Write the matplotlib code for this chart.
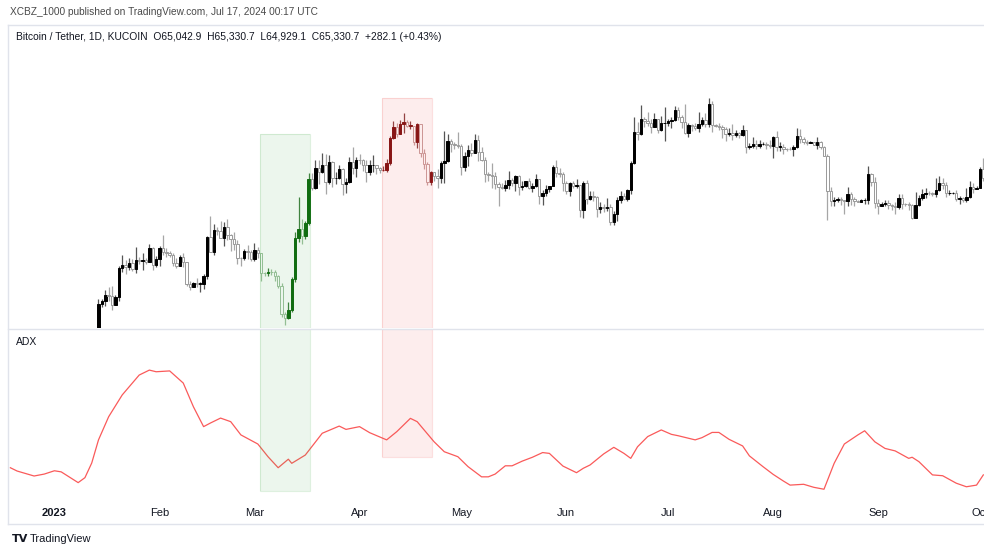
import numpy as np
import matplotlib
matplotlib.use("Agg")
import matplotlib.pyplot as plt
from matplotlib.patches import Rectangle
from matplotlib.lines import Line2D

plt.rcParams['font.family'] = ['Liberation Sans', 'DejaVu Sans']

# daily BTC/USDT candles, Jan 14 .. Oct 2 2023 (open = previous close)
first_open = 19300
jan_close = [20700, 20870, 21180, 21130, 20670, 21070, 22670, 22780, 22710, 22920, 22610, 23050, 23010, 23080, 22950, 23740, 22820, 23120]
jan_high = [21000, 21000, 21440, 21620, 21650, 21190, 22750, 23370, 23080, 23160, 23140, 23800, 23240, 23470, 23160, 23950, 23780, 23300]
jan_low = [19250, 20550, 20620, 20860, 20400, 20660, 20860, 22420, 22300, 22530, 22470, 22350, 22850, 22530, 22870, 22950, 22540, 22700]

feb_close = [23730, 23490, 23430, 23330, 22930, 22760, 23260, 22960, 21800, 21630, 21860, 21780, 21780, 22200, 24330, 23530, 24700, 24630, 24280, 24830, 24450, 24190, 23940, 23170, 23160, 23560, 23490, 23140]
feb_high = [23810, 24400, 23700, 23580, 23430, 23160, 23350, 23450, 22990, 21930, 21900, 22090, 21880, 22320, 24380, 25450, 25020, 24860, 25190, 25120, 25260, 24480, 24600, 24130, 23220, 23680, 23880, 23600]
feb_low = [22750, 23370, 23220, 23250, 22760, 22630, 22740, 22680, 21700, 21460, 21600, 21630, 21350, 21530, 22050, 23510, 23340, 24450, 24240, 23850, 24140, 23580, 23600, 22850, 22730, 23060, 23110, 23030]

mar_close = [23640, 23470, 22360, 22350, 22430, 22410, 22200, 21700, 20150, 19950, 20400, 22050, 24250, 24750, 24380, 25050, 27450, 26960, 28050, 27800, 28200, 27300, 28350, 27480, 27500, 27990, 27150, 27280, 28360, 28040, 28480]
mar_high = [24000, 23780, 23480, 22420, 22630, 22600, 22530, 22270, 21820, 20290, 20800, 22160, 24580, 26480, 25270, 25200, 27750, 27740, 28450, 28480, 28850, 28800, 28750, 28420, 27800, 28200, 28040, 27500, 28650, 29170, 28650]
mar_low = [23020, 23190, 21970, 22200, 22200, 22270, 21930, 21580, 20000, 19550, 19900, 20300, 21880, 24050, 23920, 24200, 24970, 26860, 26920, 27150, 27780, 26630, 27150, 27020, 27160, 27460, 26570, 26680, 27250, 27730, 27530]

apr_close = [28450, 28200, 27800, 28170, 28180, 28040, 27920, 27950, 28330, 29650, 30230, 29880, 30390, 30490, 30320, 30320, 29450, 30400, 28820, 28250, 27270, 27820, 27600, 27520, 28300, 28420, 29480, 29340, 29250, 29230]
apr_high = [28800, 28530, 28490, 28440, 28750, 28190, 28100, 28160, 28530, 29770, 30550, 30470, 30610, 31000, 30610, 30560, 30320, 30480, 30410, 29080, 28370, 27890, 27820, 28000, 28390, 30030, 29880, 29580, 29450, 29960]
apr_low = [28250, 27870, 27280, 27660, 27830, 27710, 27790, 27860, 27810, 28170, 29610, 29700, 29870, 29900, 30230, 30160, 29270, 29110, 28620, 28000, 27140, 27140, 27350, 26970, 27220, 27250, 28380, 28890, 29080, 29100]

may_close = [28070, 28680, 29030, 28850, 29530, 28900, 28450, 27690, 27650, 27620, 27190, 27000, 26980, 27130, 27370, 27230, 27600, 27030, 27090, 27320, 26950, 27050, 27430, 26530, 26680, 26920, 27070, 28080, 27750, 27700, 27220]
may_high = [29330, 28880, 29260, 29370, 29850, 29830, 29180, 28630, 27830, 28320, 27820, 27260, 27230, 27390, 27850, 27480, 27680, 27670, 27320, 27350, 27470, 27240, 27700, 27450, 26830, 27130, 27090, 28200, 28450, 28050, 27830]
may_low = [27670, 27880, 28130, 28690, 28820, 28390, 28400, 27300, 27360, 26980, 26920, 26000, 26900, 26800, 26930, 27070, 26790, 26580, 26870, 27000, 26900, 26720, 27000, 26070, 26060, 26530, 26760, 27050, 27560, 27570, 26820]

jun_close = [26820, 27250, 27070, 27120, 25760, 27240, 26350, 26500, 26480, 25850, 25940, 25900, 25920, 25120, 25580, 26330, 26520, 26340, 26850, 28310, 30000, 29890, 30690, 30550, 30470, 30270, 30690, 30080, 30450, 30480]
jun_high = [27350, 27300, 27320, 27460, 27130, 27350, 27400, 26800, 26780, 26530, 26210, 26080, 26410, 26080, 25740, 26480, 26780, 26680, 26890, 28400, 30780, 30500, 31420, 30800, 31050, 30660, 31010, 30700, 30820, 31300]
jun_low = [26610, 26510, 26940, 26960, 25390, 25350, 26120, 26300, 26260, 25400, 25620, 25660, 25730, 24950, 24950, 25170, 26150, 26290, 26250, 26640, 28270, 29520, 29830, 30270, 30280, 29940, 30230, 29900, 30050, 29500]

jul_close = [30590, 30620, 31160, 30770, 30510, 29900, 30350, 30290, 30170, 30410, 30620, 30390, 31470, 30330, 30300, 30250, 30140, 29860, 29910, 29800, 29910, 29800, 30080, 29180, 29230, 29350, 29220, 29310, 29350, 29280, 29230]
jul_high = [30660, 30780, 31380, 31320, 30880, 31500, 30440, 30380, 30440, 31040, 30800, 30980, 31820, 31640, 30390, 30450, 30340, 30240, 30190, 30400, 30060, 30000, 30350, 30100, 29380, 29680, 29570, 29530, 29420, 29450, 29520]
jul_low = [30320, 30200, 30570, 30630, 30200, 29850, 29700, 30040, 30070, 29950, 30310, 30250, 30250, 29950, 30250, 30070, 29650, 29500, 29770, 29570, 29720, 29640, 29740, 28870, 29060, 29110, 29080, 29110, 29260, 29040, 29120]

aug_close = [29700, 29180, 29180, 29070, 29050, 29040, 29180, 29770, 29580, 29430, 29400, 29420, 29300, 29420, 29170, 28700, 26820, 26250, 26300, 26390, 26320, 26240, 26630, 26360, 26260, 26210, 26290, 26310, 27720, 27300, 26130]
aug_high = [29740, 30050, 29420, 29320, 29110, 29170, 29250, 30180, 30130, 29700, 29540, 29470, 29450, 29680, 29480, 29230, 28780, 27000, 26460, 26490, 26460, 26330, 27000, 26750, 26490, 26310, 26370, 26430, 28140, 27760, 27560]
aug_low = [28580, 28950, 28960, 28770, 28950, 28980, 28700, 29120, 29380, 29350, 29300, 29360, 29260, 29070, 29070, 28700, 25250, 26000, 26000, 26200, 26020, 25550, 26000, 26060, 25990, 26190, 26180, 26080, 26100, 27040, 25860]

sep_close = [26000, 26070, 26170, 26020, 25990, 25950, 26440, 26100, 26090, 26030, 25360, 26040, 26420, 26630, 26700, 26670, 26630, 26860, 27210, 27130, 26670, 26680, 26680, 26350, 26400, 26320, 26470, 27020, 26910, 26970]
sep_high = [26350, 26180, 26330, 26300, 26080, 26220, 26640, 26630, 26130, 26190, 26080, 26740, 26600, 26910, 26950, 26770, 26720, 27520, 27590, 27480, 27260, 26840, 26740, 26830, 26530, 26490, 26940, 27310, 27230, 27080]
sep_low = [25530, 25970, 25980, 25800, 25770, 25580, 25810, 25850, 26000, 25750, 25300, 25330, 25960, 26330, 26420, 26570, 26520, 26490, 26770, 26930, 26460, 26590, 26630, 26240, 26090, 26200, 26200, 26440, 26680, 26890]

oct_close = [27990, 27500]
oct_high = [28070, 28600]
oct_low = [26950, 27340]

# ADX(14): day offset from Jan 1 2023, value
adx_day = [-13, -11, -6, -3, 0, 2, 7, 9, 11, 13, 16, 20, 25, 28, 30, 34, 38, 41, 44, 46,
           49, 52, 55, 60, 63, 66, 69, 70, 74, 79, 84, 86, 90, 93, 98, 101, 105, 107, 112, 115,
           119, 122, 126, 128, 130, 133, 135, 138, 141, 144, 146, 150, 154, 156, 158, 162, 165, 168, 170, 172,
           175, 179, 182, 184, 189, 191, 194, 196, 199, 203, 205, 209, 212, 215, 217, 221, 224, 227, 230, 233,
           237, 239, 242, 245, 248, 252, 253, 255, 259, 262, 266, 269, 272, 274]
adx_val = [15.7, 14.5, 12.7, 13.4, 14.6, 14.2, 10.3, 12.1, 17.4, 25.8, 34.2, 42.1, 49.3, 51.1, 50.5, 50.8, 46.4, 37.8, 30.6, 31.9,
           33.7, 32.4, 27.6, 24.3, 19.7, 15.7, 18.8, 17.3, 20.3, 28.2, 30.8, 29.6, 30.6, 28.4, 25.8, 28.8, 33.6, 32.4, 25.1, 21.5,
           19.7, 16.1, 12.4, 12.4, 13.4, 16.4, 16.4, 18.1, 19.5, 21.2, 20.9, 16.3, 13.9, 15.5, 16.7, 20.7, 23.1, 20.9, 19.1, 23.3,
           27.0, 29.4, 27.8, 27.3, 25.8, 26.6, 28.5, 28.5, 26.0, 23.6, 20.0, 16.1, 13.3, 10.9, 9.4, 9.7, 8.6, 7.9, 17.3, 24.3,
           27.6, 29.1, 25.1, 22.7, 21.8, 19.1, 19.5, 17.9, 13.1, 12.8, 10.1, 8.8, 9.4, 13.1]

month_labels = ['2023', 'Feb', 'Mar', 'Apr', 'May', 'Jun', 'Jul', 'Aug', 'Sep', 'Oct']
month_start = [0, 31, 59, 90, 120, 151, 181, 212, 243, 273]

# highlighted boxes (day offsets) : Mar 3-17 green, Apr 8-22 red
green_span = (60.5, 75.5)
red_span = (96.5, 111.5)
green_top, green_adx_bottom = 29870, 7.3
red_top, red_adx_bottom = 31810, 19.6

close = np.array(jan_close + feb_close + mar_close + apr_close + may_close + jun_close + jul_close + aug_close + sep_close + oct_close)
high = np.array(jan_high + feb_high + mar_high + apr_high + may_high + jun_high + jul_high + aug_high + sep_high + oct_high)
low = np.array(jan_low + feb_low + mar_low + apr_low + may_low + jun_low + jul_low + aug_low + sep_low + oct_low)
opn = np.concatenate([[first_open], close[:-1]])
high = np.maximum(high, np.maximum(opn, close))
low = np.minimum(low, np.minimum(opn, close))
days = np.arange(len(close)) + 13

W, H = 984, 554
fig = plt.figure(figsize=(W / 100, H / 100), dpi=100)
fig.patch.set_facecolor('white')


def fx(px):
    return px / W


def fy(py):
    return 1 - py / H


ax1 = fig.add_axes([fx(9), fy(328), 1 - fx(9), fy(25) - fy(328)])
ax2 = fig.add_axes([fx(9), fy(500), 1 - fx(9), fy(329) - fy(500)])

for ax in (ax1, ax2):
    ax.set_xlim(-13.4, 274.2)
    for s in ax.spines.values():
        s.set_visible(False)
    ax.set_yticks([])

ax1.set_ylim(19411, 35743)
ax2.set_ylim(4, 66)

# candle colours
up_body, up_wick = [], []
dn_edge, dn_wick = [], []
for d in days:
    if green_span[0] < d < green_span[1]:
        up_body.append('#0a650a'); up_wick.append('#3f7f3f')
        dn_edge.append('#9cc09c'); dn_wick.append('#9cc09c')
    elif red_span[0] < d < red_span[1]:
        up_body.append('#7d0f0f'); up_wick.append('#8a4242')
        dn_edge.append('#c99d9d'); dn_wick.append('#c99d9d')
    else:
        up_body.append('#000000'); up_wick.append('#555555')
        dn_edge.append('#9a9a9a'); dn_wick.append('#a6a6a6')

is_up = close >= opn
wick_col = [up_wick[i] if is_up[i] else dn_wick[i] for i in range(len(days))]
ax1.vlines(days, low, high, colors=wick_col, linewidth=0.9, zorder=2)

body_bot = np.minimum(opn, close)
body_h = np.maximum(np.abs(close - opn), 30)
face = [up_body[i] if is_up[i] else 'white' for i in range(len(days))]
edge = [up_body[i] if is_up[i] else dn_edge[i] for i in range(len(days))]
ax1.bar(days, body_h, bottom=body_bot, width=0.72, color=face, edgecolor=edge,
        linewidth=0.7, zorder=3)

# ADX line
ax2.plot(adx_day, adx_val, color='#fa5a5a', linewidth=0.9, zorder=2)

# highlight boxes
for ax, top, bottom, span, col in [
        (ax1, green_top, 19411, green_span, '#4caf50'),
        (ax1, red_top, 19411, red_span, '#ef5350'),
        (ax2, 66, green_adx_bottom, green_span, '#4caf50'),
        (ax2, 66, red_adx_bottom, red_span, '#ef5350')]:
    ax.add_patch(Rectangle((span[0], bottom), span[1] - span[0], top - bottom,
                           facecolor=col, alpha=0.1, edgecolor='none', zorder=4))
    ax.add_patch(Rectangle((span[0], bottom), span[1] - span[0], top - bottom,
                           facecolor='none', edgecolor=col, alpha=0.18, linewidth=0.8, zorder=4))

# x axis labels
ax1.set_xticks([])
ax2.set_xticks(month_start)
ax2.set_xticklabels(month_labels)
ax2.tick_params(axis='x', length=0, pad=6, labelsize=8, labelcolor='#131722')
ax2.get_xticklabels()[0].set_fontweight('bold')

# frame lines
grey = '#e0e3eb'
for (x0, y0, x1, y1) in [(8, 25, 984, 25), (8, 25, 8, 524), (8, 524, 984, 524), (8, 328.5, 984, 328.5)]:
    fig.add_artist(Line2D([fx(x0), fx(x1)], [fy(y0), fy(y1)], color=grey, linewidth=1.0))

# texts
fig.text(fx(10), fy(12), 'XCBZ_1000 published on TradingView.com, Jul 17, 2024 00:17 UTC',
         fontsize=7.3, color='#4a4a4a', va='center', ha='left')
fig.text(fx(16), fy(37), 'Bitcoin / Tether, 1D, KUCOIN  O65,042.9  H65,330.7  L64,929.1  C65,330.7  +282.1 (+0.43%)',
         fontsize=7.4, color='#131722', va='center', ha='left')
fig.text(fx(16), fy(342), 'ADX', fontsize=7.5, color='#131722', va='center', ha='left')
fig.text(fx(12), fy(539), 'TV', fontsize=8, fontweight='heavy', color='#131722', va='center', ha='left',
         family='DejaVu Sans')
fig.text(fx(30), fy(539), 'TradingView', fontsize=8, color='#131722', va='center', ha='left')

fig.savefig('out.png', dpi=100, facecolor='white')
